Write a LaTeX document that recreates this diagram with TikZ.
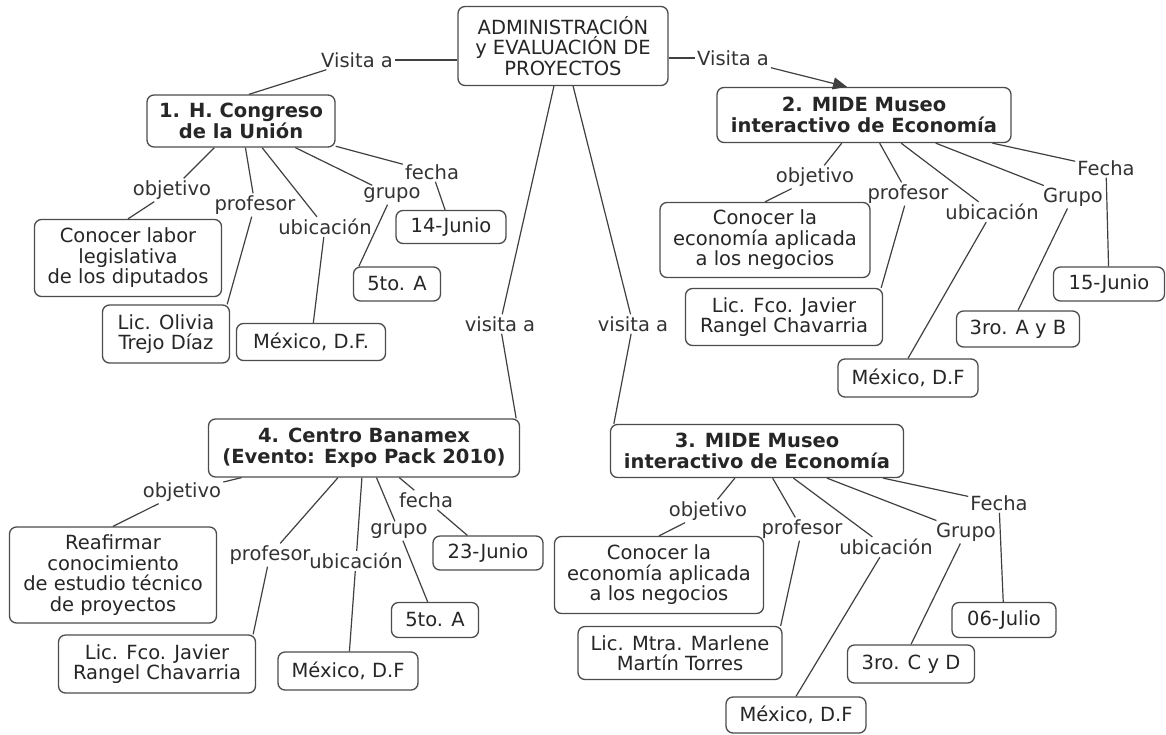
\documentclass[tikz,border=0pt]{standalone}
\usepackage{fontspec}
\setmainfont{DejaVu Sans}
\usetikzlibrary{arrows.meta}

\tikzset{
  concept/.style={
    rectangle,
    rounded corners=7pt,
    draw=black!70, line width=1.3pt,
    fill=white,
    text=black!85,
    align=center,
    inner sep=2pt},
  topic/.style={concept, font=\fontsize{19.5}{20.5}\selectfont\bfseries},
  boxsize/.style 2 args={minimum width=#1pt, minimum height=#2pt},
  linkword/.style={inner sep=2pt, text=black!80},
  line/.style={draw=black!75, line width=1.2pt},
  arrowline/.style={line, -{Triangle[length=14pt,width=12pt]}},
}

\begin{document}
\begin{tikzpicture}[x=1pt, y=-1pt, font=\fontsize{19.5}{20.5}\selectfont]
  \fill[white] (0,0) rectangle (1166,734);
  \useasboundingbox (0,0) rectangle (1166,734);

  % centro
  \node[concept, boxsize={210}{79}] (admin) at (563,46) {ADMINISTRACIÓN\\y EVALUACIÓN DE\\PROYECTOS};
  \node[linkword] (visita1) at (357,60) {Visita a};
  \node[linkword] (visita2) at (733,58) {Visita a};
  \node[linkword] (visita3) at (500,324) {visita a};
  \node[linkword] (visita4) at (633,324) {visita a};

  % las cuatro visitas
  \node[topic, boxsize={188}{52}] (congreso) at (241,121) {1. H. Congreso\\de la Unión};
  \node[topic, boxsize={294}{55}] (mideA) at (864,115) {2. MIDE Museo\\interactivo de Economía};
  \node[topic, boxsize={293}{53}] (mideB) at (757,451) {3. MIDE Museo\\interactivo de Economía};
  \node[topic, boxsize={311}{58}] (banamex) at (364,448) {4. Centro Banamex\\(Evento: Expo Pack 2010)};

  % 1. Congreso
  \node[linkword] (obj1) at (172,190) {objetivo};
  \node[linkword] (prof1) at (255,205) {profesor};
  \node[linkword] (ubic1) at (325,227) {ubicación};
  \node[linkword] (grupo1) at (392,195) {grupo};
  \node[linkword] (fecha1) at (432,172) {fecha};
  \node[concept, boxsize={187}{77}] (objtxt1) at (128,258) {Conocer labor\\legislativa\\de los diputados};
  \node[concept, boxsize={127}{58}] (proftxt1) at (166,334) {Lic. Olivia\\Trejo Díaz};
  \node[concept, boxsize={149}{37}] (ubictxt1) at (311,342) {México, D.F.};
  \node[concept, boxsize={87}{34}] (grupotxt1) at (397,284) {5to. A};
  \node[concept, boxsize={110}{33}] (fechatxt1) at (451,227) {14-Junio};

  % 2. MIDE
  \node[linkword] (obj2) at (815,177) {objetivo};
  \node[linkword] (prof2) at (908,194) {profesor};
  \node[linkword] (ubic2) at (992,212) {ubicación};
  \node[linkword] (grupo2) at (1073,197) {Grupo};
  \node[linkword] (fecha2) at (1106,168) {Fecha};
  \node[concept, boxsize={210}{75}] (objtxt2) at (765,240) {Conocer la\\economía aplicada\\a los negocios};
  \node[concept, boxsize={197}{57}] (proftxt2) at (784,317) {Lic. Fco. Javier\\Rangel Chavarria};
  \node[concept, boxsize={140}{38}] (ubictxt2) at (908,378) {México, D.F};
  \node[concept, boxsize={123}{36}] (grupotxt2) at (1018,329) {3ro. A y B};
  \node[concept, boxsize={111}{34}] (fechatxt2) at (1109,284) {15-Junio};

  % 3. MIDE
  \node[linkword] (obj3) at (708,511) {objetivo};
  \node[linkword] (prof3) at (802,529) {profesor};
  \node[linkword] (ubic3) at (886,547) {ubicación};
  \node[linkword] (grupo3) at (966,532) {Grupo};
  \node[linkword] (fecha3) at (999,503) {Fecha};
  \node[concept, boxsize={209}{77}] (objtxt3) at (659,575) {Conocer la\\economía aplicada\\a los negocios};
  \node[concept, boxsize={204}{53}] (proftxt3) at (680,653) {Lic. Mtra. Marlene\\Martín Torres};
  \node[concept, boxsize={140}{36}] (ubictxt3) at (796,715) {México, D.F};
  \node[concept, boxsize={127}{38}] (grupotxt3) at (911,664) {3ro. C y D};
  \node[concept, boxsize={104}{35}] (fechatxt3) at (1004,620) {06-Julio};

  % 4. Banamex
  \node[linkword] (obj4) at (182,492) {objetivo};
  \node[linkword] (prof4) at (270,555) {profesor};
  \node[linkword] (ubic4) at (356,561) {ubicación};
  \node[linkword] (grupo4) at (399,531) {grupo};
  \node[linkword] (fecha4) at (426,500) {fecha};
  \node[concept, boxsize={207}{96}] (objtxt4) at (113,575) {Reafirmar\\conocimiento\\de estudio técnico\\de proyectos};
  \node[concept, boxsize={197}{58}] (proftxt4) at (157,664) {Lic. Fco. Javier\\Rangel Chavarria};
  \node[concept, boxsize={140}{38}] (ubictxt4) at (348,671) {México, D.F};
  \node[concept, boxsize={87}{35}] (grupotxt4) at (435,620) {5to. A};
  \node[concept, boxsize={110}{34}] (fechatxt4) at (488,553) {23-Junio};

  % conectores del centro
  \draw[line] (visita1) -- (visita1 -| admin.west);
  \draw[line] (visita1) -- ([xshift=8pt]congreso.north);
  \draw[line] (admin.east |- visita2) -- (visita2);
  \draw[arrowline] (visita2.south east) -- ([xshift=-17pt]mideA.north);
  \draw[line] (admin) -- (visita3);
  \draw[line] (visita3) -- ([xshift=-4pt]banamex.north east);
  \draw[line] (admin) -- (visita4);
  \draw[line] (visita4) -- ([xshift=4pt]mideB.north west);

  % conectores 1
  \draw[line] (congreso) -- (obj1) -- (objtxt1.north);
  \draw[line] (congreso) -- (prof1) -- ([xshift=-3pt]proftxt1.north east);
  \draw[line] (congreso) -- (ubic1) -- (ubictxt1);
  \draw[line] (congreso) -- (grupo1) -- ([xshift=6pt]grupotxt1.north west);
  \draw[line] (congreso) -- (fecha1) -- (fechatxt1);

  % conectores 2
  \draw[line] (mideA) -- (obj2) -- (objtxt2.north);
  \draw[line] (mideA) -- (prof2) -- ([xshift=-2pt]proftxt2.north east);
  \draw[line] (mideA) -- (ubic2) -- (ubictxt2.north);
  \draw[line] (mideA) -- (grupo2) -- (grupotxt2.north);
  \draw[line] (mideA) -- (fecha2) -- (fechatxt2);

  % conectores 3
  \draw[line] (mideB) -- (obj3) -- (objtxt3.north);
  \draw[line] (mideB) -- (prof3) -- ([xshift=-2pt]proftxt3.north east);
  \draw[line] (mideB) -- (ubic3) -- (ubictxt3.north);
  \draw[line] (mideB) -- (grupo3) -- (grupotxt3.north);
  \draw[line] (mideB) -- (fecha3) -- (fechatxt3);

  % conectores 4
  \draw[line] (banamex) -- (obj4) -- (objtxt4.north);
  \draw[line] (banamex) -- (prof4) -- ([xshift=-3pt]proftxt4.north east);
  \draw[line] (banamex) -- (ubic4) -- (ubictxt4);
  \draw[line] (banamex) -- (grupo4) -- (grupotxt4);
  \draw[line] (banamex) -- (fecha4) -- (fechatxt4);
\end{tikzpicture}
\end{document}
